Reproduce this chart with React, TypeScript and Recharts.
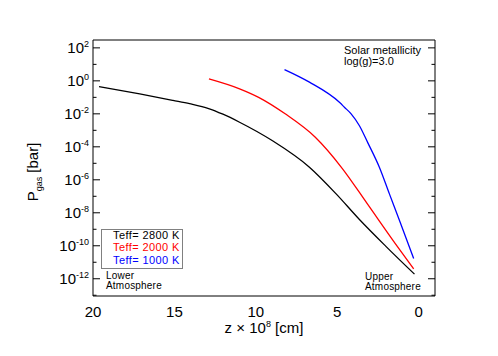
import React from 'react'
import { LineChart, Line, XAxis, YAxis } from 'recharts'

// height z (10^8 cm) and gas pressure (bar) per model
const z2800 = [19.63, 17.13, 15.09, 14.07, 12.9, 12.02, 11.0, 9.0, 6.71, 5.07, 3.64, 2.0, 0.26]
const p2800 = [4.5e-1, 1.6e-1, 6.5e-2, 4.1e-2, 2.1e-2, 9.5e-3, 3.1e-3, 2.4e-4, 5.8e-6, 1.4e-7, 3.9e-9, 8.9e-11, 1.9e-12]

const z2000 = [12.88, 11.0, 9.83, 8.2, 6.35, 4.7, 3.13, 1.45, 0.31]
const p2000 = [1.32, 3.3e-1, 1.0e-1, 1.0e-2, 3.8e-4, 5.0e-6, 3.2e-8, 1.4e-10, 4.0e-12]

const z1000 = [8.24, 6.71, 4.87, 4.56, 4.15, 3.64, 3.13, 2.41, 1.8, 1.18, 0.31]
const p1000 = [4.8, 8.3e-1, 5.0e-2, 2.5e-2, 1.0e-2, 1.9e-3, 1.8e-4, 5.6e-6, 1.4e-7, 3.4e-9, 1.7e-11]

const zMajor = [0, 5, 10, 15, 20]
const zMinor = [0, 1, 2, 3, 4, 5, 6, 7, 8, 9, 10, 11, 12, 13, 14, 15, 16, 17, 18, 19, 20]
const pMajor = [1e-12, 1e-10, 1e-8, 1e-6, 1e-4, 1e-2, 1e0, 1e2]
const pMinor = [1e-13, 1e-11, 1e-9, 1e-7, 1e-5, 1e-3, 1e-1, 1e1]

const Z_DOMAIN = [-1, 20]
const P_DOMAIN = [9e-14, 300]

const toRows = (z: number[], p: number[]) => z.map((v, i) => ({ z: v, p: p[i] }))

const FONT = '"Liberation Sans", Arial, Helvetica, sans-serif'
// mirrored axes stack inward by their size, so keep them nearly zero-sized
const THIN = 0.001

const XLabel = (props: any) => {
  const { x, y, payload } = props
  return (
    <text x={x} y={y + 21} textAnchor="middle" fontSize={15} fontFamily={FONT} fill="#000">
      {payload.value}
    </text>
  )
}

const YLabel = (props: any) => {
  const { x, y, payload } = props
  const exp = Math.round(Math.log10(payload.value))
  return (
    <text x={x - 4} y={y + 5.4} textAnchor="end" fontSize={15} fontFamily={FONT} fill="#000">
      10
      <tspan fontSize={9} dy={-6}>{exp}</tspan>
    </text>
  )
}

const NoLabel = () => <g />

const tickAxisX = (id: string, orientation: 'top' | 'bottom', ticks: number[], size: number, line: boolean) => (
  <XAxis
    key={id}
    xAxisId={id}
    orientation={orientation}
    mirror
    height={THIN}
    type="number"
    domain={Z_DOMAIN}
    reversed
    allowDataOverflow
    ticks={ticks}
    interval={0}
    tick={NoLabel}
    tickSize={size}
    tickLine={{ stroke: '#000' }}
    axisLine={line ? { stroke: '#000' } : false}
  />
)

const tickAxisY = (id: string, orientation: 'left' | 'right', ticks: number[], size: number, line: boolean) => (
  <YAxis
    key={id}
    yAxisId={id}
    orientation={orientation}
    mirror
    width={THIN}
    type="number"
    scale="log"
    domain={P_DOMAIN}
    allowDataOverflow
    ticks={ticks}
    interval={0}
    tick={NoLabel}
    tickSize={size}
    tickLine={{ stroke: '#000' }}
    axisLine={line ? { stroke: '#000' } : false}
  />
)

const note = (left: number, top: number, size: number, extra?: any): React.CSSProperties => ({
  position: 'absolute',
  left,
  top,
  fontSize: size,
  fontFamily: FONT,
  lineHeight: 1,
  whiteSpace: 'nowrap',
  color: '#000',
  ...extra,
})

export default function App() {
  return (
    <div style={{ position: 'absolute', left: 0, top: 0, width: 498, height: 356, background: '#fff' }}>
      <LineChart width={498} height={356} margin={{ top: 40, right: 63, left: 0, bottom: 0 }}>
        <XAxis
          dataKey="z"
          type="number"
          domain={Z_DOMAIN}
          reversed
          allowDataOverflow
          ticks={zMajor}
          interval={0}
          height={60}
          tickSize={0}
          tickMargin={0}
          tickLine={false}
          axisLine={false}
          tick={XLabel}
        />
        <YAxis
          dataKey="p"
          type="number"
          scale="log"
          domain={P_DOMAIN}
          allowDataOverflow
          ticks={pMajor}
          interval={0}
          width={93}
          tickSize={0}
          tickMargin={0}
          tickLine={false}
          axisLine={false}
          tick={YLabel}
        />
        {tickAxisX('bMaj', 'bottom', zMajor, 7, true)}
        {tickAxisX('bMin', 'bottom', zMinor, 3.5, false)}
        {tickAxisX('tMaj', 'top', zMajor, 7, true)}
        {tickAxisX('tMin', 'top', zMinor, 3.5, false)}
        {tickAxisY('lMaj', 'left', pMajor, 7, true)}
        {tickAxisY('lMin', 'left', pMinor, 3.5, false)}
        {tickAxisY('rMaj', 'right', pMajor, 7, true)}
        {tickAxisY('rMin', 'right', pMinor, 3.5, false)}
        <Line data={toRows(z2800, p2800)} dataKey="p" type="monotone" stroke="#000000" strokeWidth={1.3} dot={false} isAnimationActive={false} />
        <Line data={toRows(z2000, p2000)} dataKey="p" type="monotone" stroke="#ff0000" strokeWidth={1.3} dot={false} isAnimationActive={false} />
        <Line data={toRows(z1000, p1000)} dataKey="p" type="monotone" stroke="#0000ff" strokeWidth={1.3} dot={false} isAnimationActive={false} />
      </LineChart>

      {/* axis titles */}
      <div style={note(36, 172, 15, { transform: 'translate(-50%, -50%) rotate(-90deg)', lineHeight: '15px' })}>
        P<span style={{ fontSize: 9, verticalAlign: -4 }}>gas</span> [bar]
      </div>
      <div style={note(264, 326, 15, { transform: 'translate(-50%, -50%)', lineHeight: '15px' })}>
        z × 10<span style={{ fontSize: 9, verticalAlign: 6 }}>8</span> [cm]
      </div>

      {/* annotations */}
      <div style={note(344, 45, 11, { lineHeight: '11px' })}>
        Solar metallicity
        <br />
        log(g)=3.0
      </div>
      <div style={note(106, 271, 10, { lineHeight: '10px', letterSpacing: 0.2 })}>
        Lower
        <br />
        Atmosphere
      </div>
      <div style={note(365, 271.5, 10, { lineHeight: '10px', letterSpacing: 0.2 })}>
        Upper
        <br />
        Atmosphere
      </div>

      {/* legend box */}
      <div style={{ position: 'absolute', left: 101, top: 229, width: 80, height: 38, border: '1px solid #808080' }} />
      <div style={note(113, 229, 11, { lineHeight: '12.3px', letterSpacing: 0.4 })}>
        <div style={{ color: '#000000' }}>Teff= 2800 K</div>
        <div style={{ color: '#ff0000' }}>Teff= 2000 K</div>
        <div style={{ color: '#0000ff' }}>Teff= 1000 K</div>
      </div>
    </div>
  )
}
